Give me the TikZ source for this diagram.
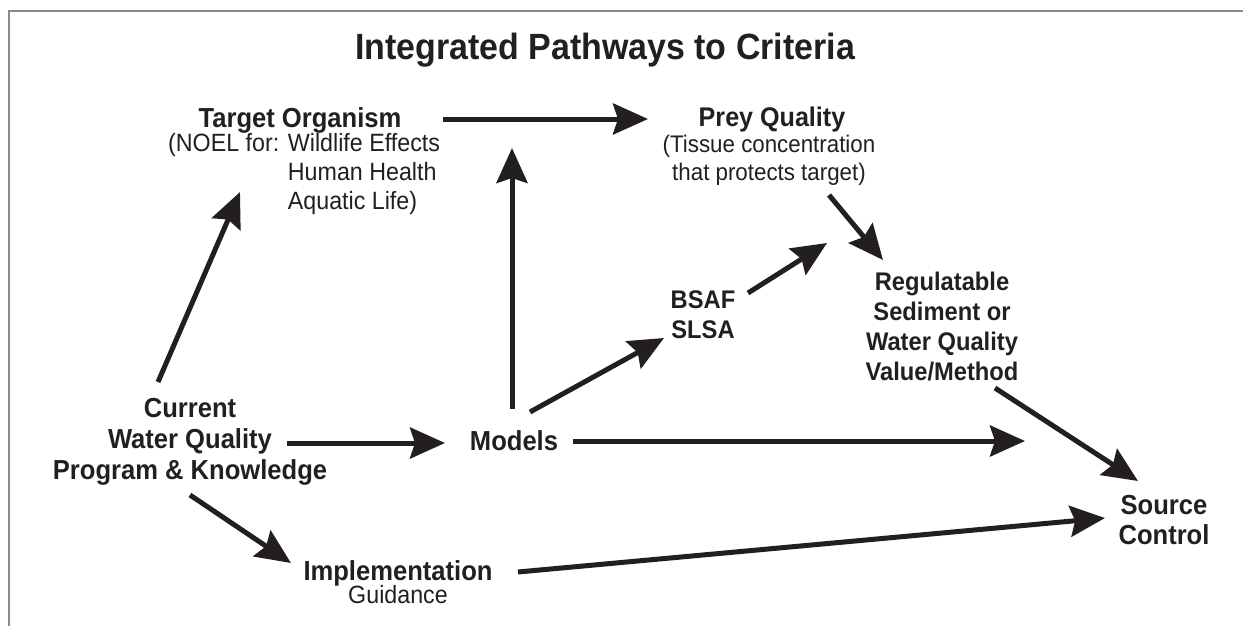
\documentclass[tikz,border=0pt]{standalone}
\usepackage{fontspec}
\setmainfont{Liberation Sans}[FakeStretch=0.93]
\usepackage{xcolor}
\usepackage{tikz}
\usetikzlibrary{arrows.meta}

\definecolor{ink}{HTML}{231F20}
\definecolor{framegray}{HTML}{8C8C8C}

\tikzset{
    boldtext/.style={font=\bfseries\fontsize{27.5}{31}\selectfont, text=ink, align=center, anchor=north, inner sep=0pt},
    plaintext/.style={font=\fontsize{25}{29}\selectfont, text=ink, align=center, anchor=north, inner sep=0pt},
    pathway/.style={-{Stealth[length=35pt,width=31pt,inset=5pt]}, line width=5pt, draw=ink}
}

\begin{document}
\begin{tikzpicture}[x=1pt, y=-1pt]
                \useasboundingbox (0,0) rectangle (1243,626);
                \fill[white] (0,0) rectangle (1243,626);

                \draw[
                    line width=2pt,
                    color=framegray
                    ] (8.5,626) -- (8.5,11) -- (1243,11);

                \node[boldtext, font=\bfseries\fontsize{36.5}{40}\selectfont] (title) at (605,33) {Integrated Pathways to Criteria};

                \node[boldtext] (target) at (300,107) {Target Organism};
                \node[plaintext, align=left, anchor=north west] (noel) at (168,133)
                    {(NOEL for: Wildlife Effects\\\hphantom{(NOEL for: }Human Health\\\hphantom{(NOEL for: }Aquatic Life)};

                \node[boldtext, font=\bfseries\fontsize{27}{31}\selectfont] (prey) at (772,107) {Prey Quality};
                \node[plaintext, font=\fontsize{24}{28}\selectfont] (preynote) at (769,135) {(Tissue concentration\\that protects target)};

                \node[boldtext, font=\bfseries\fontsize{25.5}{30}\selectfont] (bsaf) at (703,290) {BSAF\\SLSA};
                \node[boldtext, font=\bfseries\fontsize{25.5}{30}\selectfont] (reg) at (942,272)
                    {Regulatable\\Sediment or\\Water Quality\\Value/Method};

                \node[boldtext] (current) at (190,398) {Current\\Water Quality\\Program \& Knowledge};
                \node[boldtext] (models) at (514,430) {Models};

                \node[boldtext] (impl) at (398,560) {Implementation};
                \node[plaintext] (guide) at (398,585) {Guidance};

                \node[boldtext, font=\bfseries\fontsize{27.5}{30}\selectfont] (source) at (1164,495) {Source\\Control};

                % free arrow ends
                \coordinate (modelsup) at (512,148);
                \coordinate (bsafup) at (827,243);
                \coordinate (modelsright) at (1025,441);

                \draw[pathway] ([shift={(143,12)}]target.north) to ([shift={(-124,12)}]prey.north);

                \draw[pathway] ([shift={(-2,-21)}]models.north) to (modelsup);

                \draw[pathway] ([shift={(16,-18)}]models.north) to ([shift={(-39,48)}]bsaf.north);

                \draw[pathway] ([shift={(45,3)}]bsaf.north) to (bsafup);

                \draw[pathway] ([shift={(60,60)}]preynote.north) to ([shift={(-59,-12)}]reg.north);

                \draw[pathway] ([shift={(97,45)}]current.north) to ([shift={(-69,13)}]models.north);

                \draw[pathway] ([shift={(59,11)}]models.north) to (modelsright);

                \draw[pathway] ([shift={(53,116)}]reg.north) to ([shift={(-26,-14)}]source.north);

                \draw[pathway] ([shift={(-32,-16)}]current.north) to ([shift={(72,59)}]noel.north west);

                \draw[pathway] ([shift={(0,97)}]current.north) to ([shift={(-107,3)}]impl.north);

                \draw[pathway] ([shift={(120,12)}]impl.north) to ([shift={(-59,23)}]source.north);

            \end{tikzpicture}
\end{document}
